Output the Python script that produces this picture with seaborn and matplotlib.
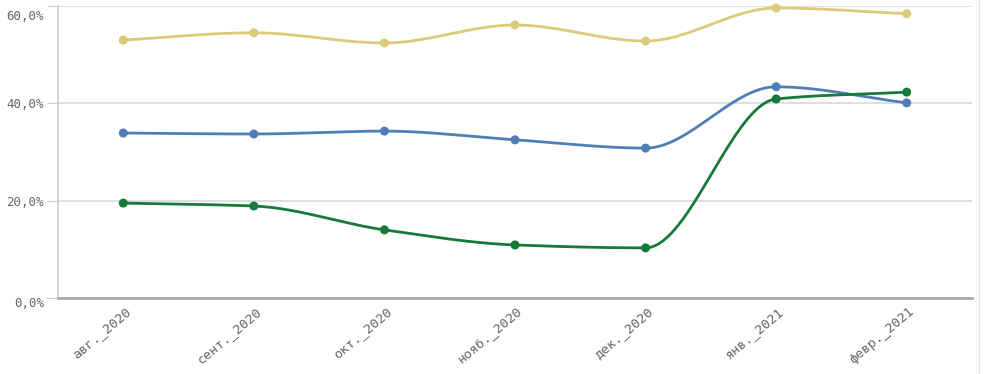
import numpy as np
import pandas as pd
import matplotlib
matplotlib.use("Agg")
import matplotlib.pyplot as plt
import matplotlib.transforms as mtransforms
import seaborn as sns
from matplotlib.ticker import FuncFormatter

# Данные (в %)
months = ["авг._2020", "сент._2020", "окт._2020", "нояб._2020",
          "дек._2020", "янв._2021", "февр._2021"]
yellow_vals = [53.0, 54.5, 52.4, 56.1, 52.8, 59.6, 58.4]
blue_vals = [33.9, 33.7, 34.3, 32.5, 30.8, 43.4, 40.1]
green_vals = [19.5, 18.9, 14.0, 10.9, 10.3, 40.9, 42.3]

colors = {"yellow": "#dcc97a", "blue": "#4f7eb6", "green": "#17793a"}


# Монотонная кубическая кривая (только для отрисовки гладкой линии)
def monotone_curve(x, y, n=40):
    x = np.asarray(x, float)
    y = np.asarray(y, float)
    h = np.diff(x)
    d = np.diff(y) / h
    m = np.zeros_like(y)
    m[0], m[-1] = d[0], d[-1]
    for i in range(1, len(y) - 1):
        if d[i - 1] * d[i] <= 0:
            m[i] = 0
        else:
            w1 = 2 * h[i] + h[i - 1]
            w2 = h[i] + 2 * h[i - 1]
            m[i] = (w1 + w2) / (w1 / d[i - 1] + w2 / d[i])
    xs, ys = [], []
    for i in range(len(x) - 1):
        t = np.linspace(0, 1, n, endpoint=(i == len(x) - 2))
        h00 = 2 * t**3 - 3 * t**2 + 1
        h10 = t**3 - 2 * t**2 + t
        h01 = -2 * t**3 + 3 * t**2
        h11 = t**3 - t**2
        xs.append(x[i] + t * h[i])
        ys.append(h00 * y[i] + h10 * h[i] * m[i] + h01 * y[i + 1] + h11 * h[i] * m[i + 1])
    return np.concatenate(xs), np.concatenate(ys)


sns.set_style("white")
plt.rcParams["font.family"] = ["DejaVu Sans Mono", "DejaVu Sans"]

fig = plt.figure(figsize=(9.97, 3.74), dpi=100)
ax = fig.add_axes([58 / 997, 76 / 374, (972 - 58) / 997, (298 - 6) / 374])

xpos = np.arange(len(months))
for name, vals in [("yellow", yellow_vals), ("blue", blue_vals), ("green", green_vals)]:
    cx, cy = monotone_curve(xpos, vals)
    curve = pd.DataFrame({"x": cx, "y": cy})
    sns.lineplot(data=curve, x="x", y="y", color=colors[name], lw=2.0, ax=ax,
                 sort=False, estimator=None, zorder=3)
    pts = pd.DataFrame({"x": xpos, "y": vals})
    sns.scatterplot(data=pts, x="x", y="y", color=colors[name], s=42,
                    edgecolor="none", ax=ax, zorder=4, clip_on=False)

ax.set_xlim(-0.5, len(months) - 0.5)
ax.set_ylim(0, 60)
ax.set_yticks([0, 20, 40, 60])
ax.yaxis.set_major_formatter(FuncFormatter(lambda v, p: f"{v:.1f}%".replace(".", ",")))
ax.set_xticks(xpos)
ax.set_xticklabels(months, rotation=40, ha="right", va="top", rotation_mode="anchor")
ax.set_xlabel("")
ax.set_ylabel("")

ax.grid(axis="y", color="#d9d9d9", lw=1.2)
ax.set_axisbelow(True)
for s in ["top", "right"]:
    ax.spines[s].set_visible(False)
ax.spines["left"].set_color("#d0d0d0")
ax.spines["left"].set_linewidth(1.2)
ax.spines["bottom"].set_color("#aaaaaa")
ax.spines["bottom"].set_linewidth(2)

ax.tick_params(axis="y", length=8, color="#cccccc", labelcolor="#666666",
               labelsize=9, left=True, pad=2)
ax.tick_params(axis="x", length=0, labelcolor="#666666", labelsize=9.5, pad=5)

# сдвиг подписей оси X немного вправо
shift = mtransforms.ScaledTranslation(2 / 100, 0, fig.dpi_scale_trans)
for lbl in ax.get_xticklabels():
    lbl.set_transform(lbl.get_transform() + shift)

# верхняя подпись оси Y опускается ниже линии сетки
for lbl, v in zip(ax.get_yticklabels(), ax.get_yticks()):
    if v == 60:
        lbl.set_va("top")
        lbl.set_transform(lbl.get_transform() + mtransforms.ScaledTranslation(0, -4 / 100, fig.dpi_scale_trans))
    elif v == 0:
        lbl.set_transform(lbl.get_transform() + mtransforms.ScaledTranslation(0, -4 / 100, fig.dpi_scale_trans))

# тонкая рамка панели справа
fig.add_artist(plt.Line2D([979 / 997, 979 / 997], [0, 1], color="#e6e6e6", lw=1))

fig.savefig("out.png", dpi=100)
